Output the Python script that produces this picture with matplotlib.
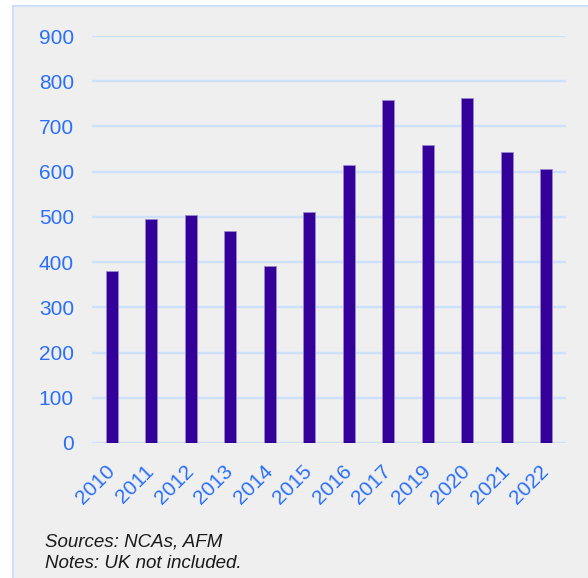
import matplotlib
matplotlib.use('Agg')
import matplotlib.pyplot as plt
from matplotlib.patches import Rectangle
from matplotlib.lines import Line2D

years = ['2010', '2011', '2012', '2013', '2014', '2015', '2016',
         '2017', '2019', '2020', '2021', '2022']
counts = [380, 495, 504, 469, 391, 511, 614, 758, 658, 764, 643, 607]
yticks = [0, 100, 200, 300, 400, 500, 600, 700, 800, 900]

W, H = 588, 578
fig = plt.figure(figsize=(W / 100, H / 100), dpi=100)
fig.patch.set_facecolor('white')

# grey panel with light blue left/top border, kept behind the axes
fig.patches.append(Rectangle((13 / W, 0), 1 - 13 / W, 1 - 6 / H,
                             transform=fig.transFigure, facecolor='#efefef',
                             edgecolor='none', zorder=-2))
fig.lines.append(Line2D([13 / W, 13 / W], [0, 1 - 6 / H], transform=fig.transFigure,
                        color='#cfe0ff', lw=1.5, zorder=-1))
fig.lines.append(Line2D([13 / W, 1], [1 - 6 / H, 1 - 6 / H], transform=fig.transFigure,
                        color='#cfe0ff', lw=1.5, zorder=-1))

ax = fig.add_axes([92 / W, 1 - 443 / H, (566 - 92) / W, (443 - 36) / H])
ax.set_facecolor('none')

x = range(len(years))
ax.bar(x, counts, width=0.3, color='#330099', edgecolor='#9a8ad0', linewidth=0.6, zorder=3)

ax.set_ylim(0, 900)
ax.set_xlim(-0.5, len(years) - 0.5)
ax.set_yticks(yticks)
for v in yticks:
    ax.axhline(v, color='#cce0ff', lw=1.7, zorder=1)

ax.set_xticks(list(x))
ax.set_xticklabels(years, rotation=45, ha='right', va='center', rotation_mode='anchor')
ax.tick_params(axis='both', length=0, colors='#2a6fff', labelsize=15,
               labelfontfamily='Liberation Sans')
ax.tick_params(axis='y', pad=13)
ax.tick_params(axis='x', pad=18)
for s in ax.spines.values():
    s.set_visible(False)

fig.text(45 / W, 1 - 542 / H, 'Sources: NCAs, AFM', style='italic', fontsize=13.5,
         family='Liberation Sans', va='center', color='#1a1a1a')
fig.text(45 / W, 1 - 564 / H, 'Notes: UK not included.', style='italic', fontsize=13.5,
         family='Liberation Sans', va='center', color='#1a1a1a')

fig.savefig('out.png', dpi=100)
